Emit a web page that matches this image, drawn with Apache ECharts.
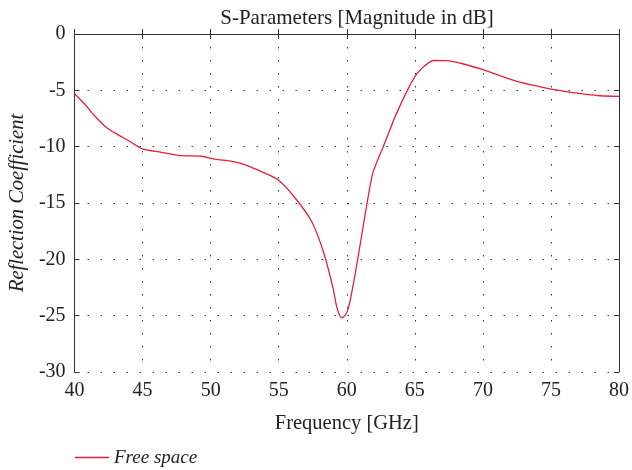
<!DOCTYPE html>
<html>
<head>
<meta charset="utf-8">
<script src="https://cdn.jsdelivr.net/npm/echarts@6/dist/echarts.min.js"></script>
<style>html,body{margin:0;padding:0;background:#fff;}#c{width:632px;height:470px;}</style>
</head>
<body>
<div id="c"></div>
<script>
const freqGHz = [40, 40.8, 41.5, 42.3, 43.2, 44, 45, 46.4, 47.8, 49.3, 50.3, 51.6, 52.5, 53.3, 54.9, 56.1, 57.4, 58.3, 59, 59.3, 59.65, 60.05, 60.45, 60.8, 61.2, 61.55, 61.9, 62.3, 62.65, 63.6, 64.6, 65.2, 65.8, 66.4, 67.3, 68.5, 70, 71.4, 72.8, 74.3, 75.7, 77.2, 78.6, 80];
const freeSpaceDb = [-5.3, -6.3, -7.3, -8.25, -8.95, -9.5, -10.2, -10.5, -10.8, -10.85, -11.1, -11.3, -11.6, -12.0, -12.9, -14.4, -16.6, -19.4, -22.6, -24.4, -25.2, -24.6, -22.4, -20.0, -17.1, -14.6, -12.4, -11.1, -10.1, -7.2, -4.65, -3.45, -2.75, -2.35, -2.37, -2.64, -3.17, -3.76, -4.3, -4.71, -5.03, -5.3, -5.48, -5.54];
const seriesName = 'Free space';
const titleText = 'S-Parameters [Magnitude in dB]';
const xName = 'Frequency [GHz]';
const yName = 'Reflection Coefficient';

const font = 'Liberation Serif, DejaVu Serif, serif';
const axisLine = {show: true, lineStyle: {color: '#333', width: 1}};
const gridLine = {show: true, lineStyle: {color: '#333', type: [1.5, 11.5], width: 1}};
const tick = {show: true, inside: true, length: 5, lineStyle: {color: '#333'}};
const chart = echarts.init(document.getElementById('c'), null, {renderer: 'canvas'});
chart.setOption({
  animation: false,
  title: {text: titleText, left: 352, textAlign: 'center', top: 3,
    textStyle: {fontFamily: font, fontWeight: 'normal', fontSize: 21, color: '#222'}},
  grid: {left: 72, right: 10, top: 34, bottom: 98},
  legend: {left: 70, top: 443, itemWidth: 34, itemHeight: 1.3, itemGap: 8, icon: 'rect',
    data: [seriesName],
    textStyle: {fontFamily: font, fontStyle: 'italic', fontSize: 19, color: '#222'}},
  xAxis: [{
    type: 'value', min: 40, max: 80, interval: 5,
    name: xName, nameLocation: 'middle', nameGap: 41,
    nameTextStyle: {fontFamily: font, fontSize: 20.5, color: '#222'},
    axisLine: axisLine, axisTick: tick,
    axisLabel: {fontFamily: font, fontSize: 20, color: '#222', margin: 9},
    splitLine: gridLine
  }, {
    type: 'value', position: 'top', min: 40, max: 80, interval: 5,
    axisLine: axisLine, axisTick: tick,
    axisLabel: {show: false}, splitLine: {show: false}
  }],
  yAxis: [{
    type: 'value', min: -30, max: 0, interval: 5,
    name: yName, nameLocation: 'middle', nameGap: 44,
    nameTextStyle: {fontFamily: font, fontStyle: 'italic', fontSize: 20.5, color: '#222'},
    axisLine: axisLine, axisTick: tick,
    axisLabel: {fontFamily: font, fontSize: 20, color: '#222', margin: 9},
    splitLine: gridLine
  }, {
    type: 'value', position: 'right', min: -30, max: 0, interval: 5,
    axisLine: axisLine, axisTick: tick,
    axisLabel: {show: false}, splitLine: {show: false}
  }],
  series: [{
    name: seriesName, type: 'line', xAxisIndex: 0, yAxisIndex: 0,
    data: freqGHz.map((f, i) => [f, freeSpaceDb[i]]),
    smooth: 0.3, symbol: 'none', showSymbol: false,
    lineStyle: {color: '#e3203e', width: 1.3}, itemStyle: {color: '#e3203e'}
  }]
});
</script>
</body>
</html>
